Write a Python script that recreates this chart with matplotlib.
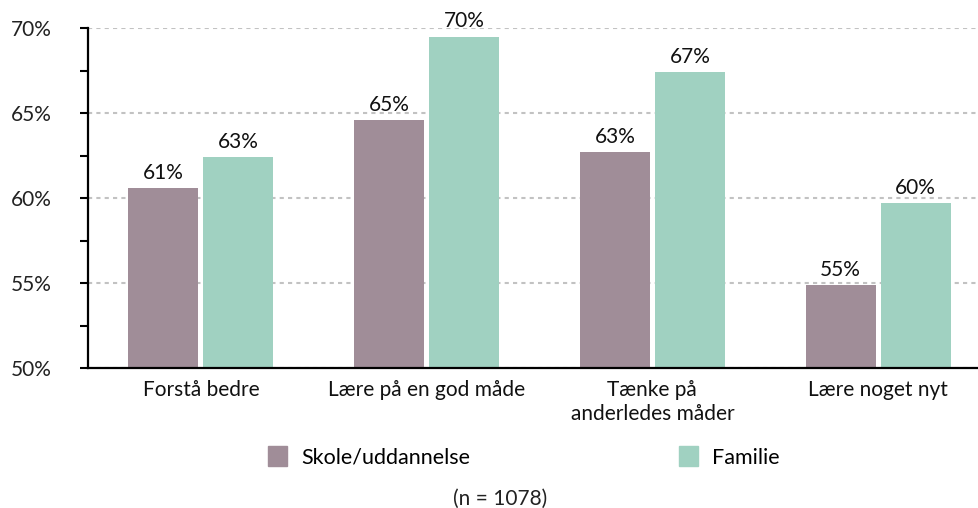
import numpy as np
import matplotlib
matplotlib.use('Agg')
import matplotlib.pyplot as plt
from matplotlib.patches import Patch

plt.rcParams['font.family'] = ['Lato', 'DejaVu Sans']

categories = ['Forstå bedre', 'Lære på en god måde', 'Tænke på\nanderledes måder', 'Lære noget nyt']
series_names = ['Skole/uddannelse', 'Familie']
skole = [60.6, 64.6, 62.7, 54.9]
familie = [62.4, 69.5, 67.4, 59.7]
skole_labels = ['61%', '65%', '63%', '55%']
familie_labels = ['63%', '70%', '67%', '60%']
yticks = [50, 55, 60, 65, 70]
note = '(n = 1078)'

c_skole = '#a08d98'
c_familie = '#a0d1c1'
fs = 15

fig = plt.figure(figsize=(9.79, 5.08), dpi=100)
ax = fig.add_axes([88 / 979, 1 - 368 / 508, (979 - 88) / 979, (368 - 28) / 508])

x = np.arange(len(categories))
w = 0.31
off = 0.166
b1 = ax.bar(x - off, skole, w, color=c_skole, zorder=3)
b2 = ax.bar(x + off, familie, w, color=c_familie, zorder=3)

for bars, labels in [(b1, skole_labels), (b2, familie_labels)]:
    for rect, lab in zip(bars, labels):
        ax.text(rect.get_x() + rect.get_width() / 2, rect.get_height() + 0.3, lab,
                ha='center', va='bottom', fontsize=fs, color='#111111')

ax.set_ylim(50, 70)
ax.set_xlim(-0.5, 3.447)
ax.set_yticks(yticks)
ax.set_yticklabels([f'{t}%' for t in yticks], fontsize=fs, color='#222222')
ax.set_yticks([52.5, 57.5, 62.5, 67.5], minor=True)
ax.set_xticks(x)
ax.set_xticklabels(categories, fontsize=fs, color='#111111', linespacing=1.2)
ax.tick_params(axis='x', length=0, pad=9)
ax.tick_params(axis='y', which='both', length=6, width=1.5, color='black', pad=20)

for s in ['top', 'right']:
    ax.spines[s].set_visible(False)
for s in ['left', 'bottom']:
    ax.spines[s].set_linewidth(1.6)
    ax.spines[s].set_zorder(4)

ax.yaxis.grid(True, which='major', linestyle=(0, (2, 2)), color='#c2c2c2', linewidth=1.5, zorder=0)
ax.set_axisbelow(True)

handles = [Patch(color=c_skole), Patch(color=c_familie)]
fig.legend(handles, series_names, loc='center', bbox_to_anchor=(524 / 979, 1 - 457 / 508),
           ncol=2, frameon=False, fontsize=15.5, handlelength=0.88, handleheight=1.02,
           columnspacing=9.7, handletextpad=0.65)
fig.text(500 / 979, 1 - 499 / 508, note, ha='center', va='center', fontsize=fs, color='#222222')

fig.savefig('out.png', dpi=100)
